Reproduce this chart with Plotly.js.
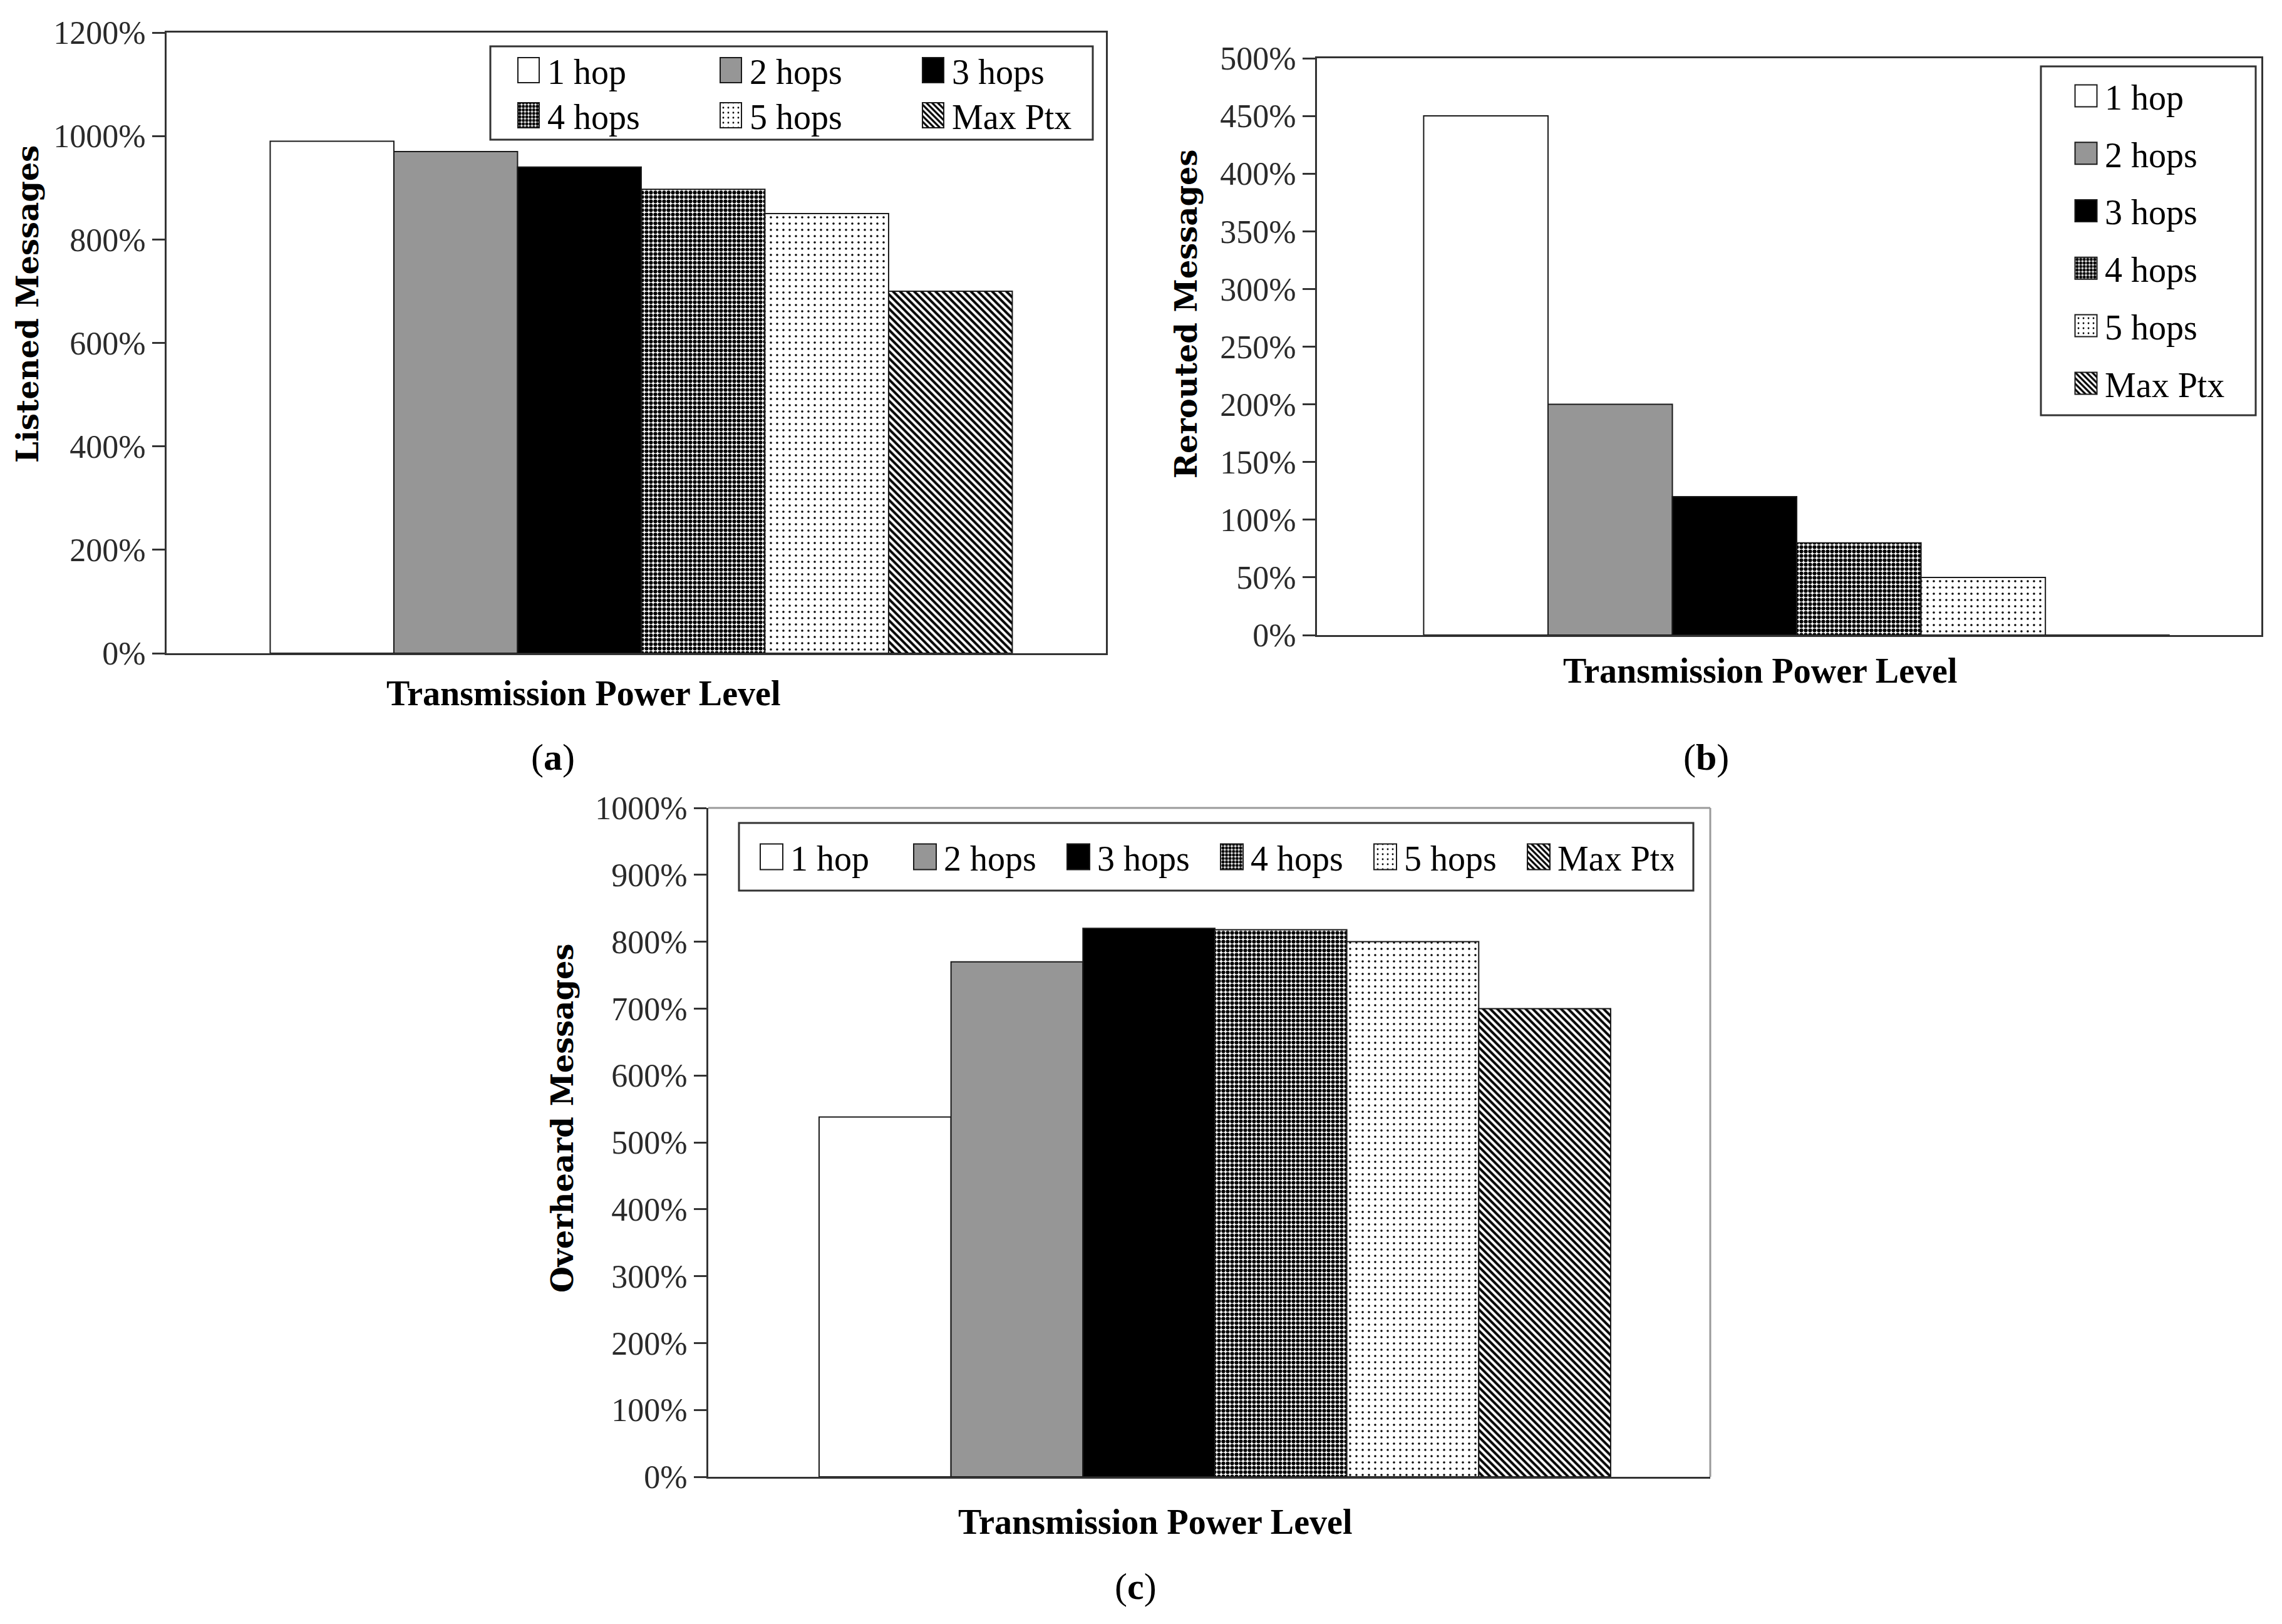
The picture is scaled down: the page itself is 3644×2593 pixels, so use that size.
<!DOCTYPE html>
<html>
<head>
<meta charset="utf-8">
<script src="https://cdn.plot.ly/plotly-3.0.1.min.js"></script>
<style>
  html, body { margin: 0; padding: 0; background: #ffffff; }
  #chart { width: 3644px; height: 2593px; }
</style>
</head>
<body>
<div id="chart"></div>
<script>
// ---------------- data ----------------
const seriesNames = ['1 hop', '2 hops', '3 hops', '4 hops', '5 hops', 'Max Ptx'];
const category = ['Transmission Power Level'];
const listenedValues = [990, 970, 940, 897, 850, 700];   // (a) %
const reroutedValues = [450, 200, 120, 80, 50, 0];       // (b) %
const overheardValues = [538, 770, 820, 818, 800, 700];  // (c) %
const tickValsA = [0, 200, 400, 600, 800, 1000, 1200];
const tickTextA = ['0%', '200%', '400%', '600%', '800%', '1000%', '1200%'];
const tickValsB = [0, 50, 100, 150, 200, 250, 300, 350, 400, 450, 500];
const tickTextB = ['0%', '50%', '100%', '150%', '200%', '250%', '300%', '350%', '400%', '450%', '500%'];
const tickValsC = [0, 100, 200, 300, 400, 500, 600, 700, 800, 900, 1000];
const tickTextC = ['0%', '100%', '200%', '300%', '400%', '500%', '600%', '700%', '800%', '900%', '1000%'];
const yTitleA = 'Listened Messages';
const yTitleB = 'Rerouted Messages';
const yTitleC = 'Overheard Messages';
const xTitle = 'Transmission Power Level';

// ---------------- styles ----------------
const W = 3644, H = 2593;
const fillColors = ['#ffffff', '#969696', '#000000', '#ffffff', '#ffffff', '#ffffff'];
const patternShapes = ['', '', '', '.', '.', '\\'];
const patternSizes = [8, 8, 8, 7, 10, 8];
const patternSolidity = [0.3, 0.3, 0.3, 0.62, 0.1, 0.5];
const SERIF = 'Liberation Serif, Times New Roman, serif';
const BOLDSERIF = 'DejaVu Serif, serif';

function px(x) { return x / W; }
function py(y) { return 1 - y / H; }

function makeTraces(values, xa, ya, legendIds, groupPrefix) {
  return seriesNames.map(function (name, i) {
    const marker = {
      color: fillColors[i],
      line: { color: '#1a1a1a', width: 2 }
    };
    if (patternShapes[i]) {
      marker.pattern = {
        shape: patternShapes[i], size: patternSizes[i], solidity: patternSolidity[i],
        fgcolor: '#000000', bgcolor: '#ffffff', fillmode: 'replace'
      };
    }
    const t = {
      type: 'bar', name: name, x: category, y: [values[i]],
      xaxis: xa, yaxis: ya, marker: marker, legend: legendIds[i],
      hoverinfo: 'name+y'
    };
    if (groupPrefix) t.legendgroup = groupPrefix + i;
    return t;
  });
}

const data = []
  .concat(makeTraces(listenedValues, 'x', 'y',
    ['legend', 'legend', 'legend', 'legend4', 'legend4', 'legend4'], null))
  .concat(makeTraces(reroutedValues, 'x2', 'y2',
    ['legend2', 'legend2', 'legend2', 'legend2', 'legend2', 'legend2'], 'b'))
  .concat(makeTraces(overheardValues, 'x3', 'y3',
    ['legend3', 'legend3', 'legend3', 'legend3', 'legend3', 'legend3'], null));

function xAxis(domain, anchor, range) {
  return {
    domain: domain, anchor: anchor, type: 'category', range: range,
    showticklabels: false, ticks: '', showgrid: false, zeroline: false,
    showline: true, linecolor: '#333333', linewidth: 3, mirror: true, fixedrange: true
  };
}
function yAxis(domain, anchor, range, tv, tt, mirror) {
  return {
    domain: domain, anchor: anchor, range: range,
    tickmode: 'array', tickvals: tv, ticktext: tt,
    ticks: 'outside', ticklen: 20, tickwidth: 3, tickcolor: '#333333',
    tickfont: { family: SERIF, size: 52, color: '#2a2a2a' },
    showgrid: false, zeroline: false,
    showline: true, linecolor: '#333333', linewidth: 3, mirror: mirror, fixedrange: true
  };
}

const legendFont = { family: SERIF, size: 56, color: '#000000' };
function legendBase(x, y, orientation) {
  return {
    x: x, y: y, xanchor: 'left', yanchor: 'top', orientation: orientation,
    font: legendFont, bgcolor: 'rgba(0,0,0,0)', borderwidth: 0, itemwidth: 50,
    itemclick: false, itemdoubleclick: false
  };
}

const legendA1 = legendBase(px(814), py(69), 'h');
legendA1.entrywidth = 258; legendA1.entrywidthmode = 'pixels';
const legendA2 = legendBase(px(814), py(141), 'h');
legendA2.entrywidth = 258; legendA2.entrywidthmode = 'pixels';
const legendB = legendBase(px(3301), py(110), 'v');
legendB.traceorder = 'grouped'; legendB.tracegroupgap = 16;
const legendC = legendBase(px(1202), py(1325), 'h');
legendC.entrywidth = 180; legendC.entrywidthmode = 'pixels';

function box(x0, y0, x1, y1, color) {
  return {
    type: 'rect', xref: 'paper', yref: 'paper',
    x0: px(x0), x1: px(x1), y0: py(y1), y1: py(y0),
    line: { color: color || '#333333', width: 3 }, fillcolor: 'rgba(0,0,0,0)', layer: 'above'
  };
}

const shapes = [
  box(783, 74, 1745, 223),
  box(3259, 106, 3602, 663),
  box(1180, 1314, 2704, 1422),
  // light frame on top and right of panel (c)
  { type: 'line', xref: 'x3 domain', yref: 'y3 domain', x0: 0, x1: 1, y0: 1, y1: 1,
    line: { color: '#9a9a9a', width: 3 }, layer: 'below' },
  { type: 'line', xref: 'x3 domain', yref: 'y3 domain', x0: 1, x1: 1, y0: 0, y1: 1,
    line: { color: '#9a9a9a', width: 3 }, layer: 'below' }
];

function ann(text, x, y, size, family, angle) {
  return {
    text: text, xref: 'paper', yref: 'paper', x: px(x), y: py(y),
    xanchor: 'center', yanchor: 'middle', showarrow: false, textangle: angle || 0,
    font: { family: family, size: size, color: '#000000' }
  };
}

const annotations = [
  ann('<b>' + yTitleA + '</b>', 44, 486, 48, BOLDSERIF, -90),
  ann('<b>' + yTitleB + '</b>', 1894, 501, 48, BOLDSERIF, -90),
  ann('<b>' + yTitleC + '</b>', 898, 1785, 48, BOLDSERIF, -90),
  ann('<b>' + xTitle + '</b>', 931, 1107, 56, SERIF),
  ann('<b>' + xTitle + '</b>', 2810, 1071, 56, SERIF),
  ann('<b>' + xTitle + '</b>', 1844, 2430, 56, SERIF),
  ann('(<b>a</b>)', 883, 1209, 60, SERIF),
  ann('(<b>b</b>)', 2724, 1209, 60, SERIF),
  ann('(<b>c</b>)', 1813, 2533, 60, SERIF)
];

const layout = {
  width: W, height: H,
  margin: { l: 0, r: 0, t: 0, b: 0, pad: 0 },
  paper_bgcolor: '#ffffff', plot_bgcolor: '#ffffff',
  barmode: 'group', bargap: 0.21, bargroupgap: 0,
  font: { family: SERIF, color: '#000000' },
  xaxis: xAxis([px(266), px(1766)], 'y', [-0.5053, 0.4947]),
  yaxis: yAxis([py(1043), py(52)], 'x', [0, 1200], tickValsA, tickTextA, true),
  xaxis2: xAxis([px(2103), px(3611)], 'y2', [-0.508, 0.492]),
  yaxis2: yAxis([py(1014), py(93)], 'x2', [0, 500], tickValsB, tickTextB, true),
  xaxis3: Object.assign(xAxis([px(1131), px(2731)], 'y3', [-0.5056, 0.4944]), { mirror: false }),
  yaxis3: yAxis([py(2358), py(1290)], 'x3', [0, 1000], tickValsC, tickTextC, false),
  legend: legendA1,
  legend4: legendA2,
  legend2: legendB,
  legend3: legendC,
  shapes: shapes,
  annotations: annotations
};

const gd = document.getElementById('chart');
Plotly.newPlot(gd, data, layout, { displayModeBar: false, responsive: false }).then(function () {
  // enlarge the legend swatches (half width, half height) to the size used in the original
  const halfSizes = { legend: [17, 20], legend4: [17, 20], legend2: [17.5, 17.5], legend3: [18, 20.5] };
  Object.keys(halfSizes).forEach(function (id) {
    const hw = halfSizes[id][0], hh = halfSizes[id][1];
    gd.querySelectorAll('g.' + id + ' .legendpoints path').forEach(function (p) {
      p.setAttribute('d', 'M' + hw + ',' + hh + 'H' + (-hw) + 'V' + (-hh) + 'H' + hw + 'Z');
    });
  });
});
</script>
</body>
</html>
